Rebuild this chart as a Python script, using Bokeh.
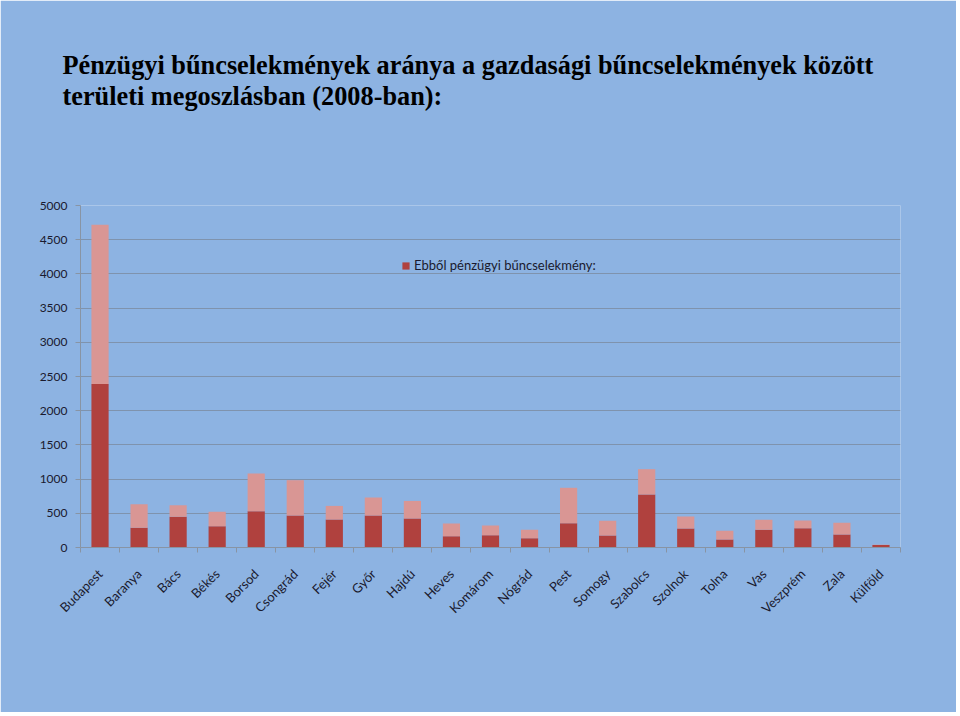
from bokeh.plotting import figure
from bokeh.models import (Range1d, FixedTicker, Legend, LegendItem, Title,
                          ColumnDataSource)
from bokeh.embed import file_html
from bokeh.resources import INLINE
import math

categories = ["Budapest", "Baranya", "Bács", "Békés", "Borsod", "Csongrád",
              "Fejér", "Győr", "Hajdú", "Heves", "Komárom", "Nógrád", "Pest",
              "Somogy", "Szabolcs", "Szolnok", "Tolna", "Vas", "Veszprém",
              "Zala", "Külföld"]
# total economic crimes (gazdasági bűncselekmények)
gazdasagi = [4720, 633, 619, 521, 1082, 984, 608, 731, 681, 351, 322, 259,
             873, 390, 1145, 453, 244, 405, 395, 361, 42]
# of which financial crimes (Ebből pénzügyi bűncselekmény)
penzugyi = [2390, 287, 448, 311, 531, 468, 409, 468, 424, 165, 180, 136,
            355, 175, 775, 278, 117, 259, 282, 190, 36]
y_ticks = [0, 500, 1000, 1500, 2000, 2500, 3000, 3500, 4000, 4500, 5000]

BG = "#8DB3E2"
DARK = "#B0413E"
LIGHT = "#D99694"
GRID = "#7F93AD"
FONT = "Lato"

n = len(categories)
xs = [i + 0.5 for i in range(n)]
rest = [g - f for g, f in zip(gazdasagi, penzugyi)]
src = ColumnDataSource(dict(x=xs, penzugyi=penzugyi, rest=rest,
                            gazdasagi=gazdasagi))

p = figure(width=956, height=712, output_backend="svg", toolbar_location=None,
           x_range=Range1d(0, n), y_range=Range1d(0, 5000),
           min_border_left=80, min_border_right=56, min_border_bottom=165,
           min_border_top=205)
p.background_fill_color = BG
p.border_fill_color = BG
p.outline_line_color = None

p.title.visible = False
# spacer between the plot frame and the title
spacer = Title(text=" ", text_font_size="1px", standoff=91)
p.add_layout(spacer, "above")
t = Title(text="Pénzügyi bűncselekmények aránya a gazdasági bűncselekmények között\nterületi megoszlásban (2008-ban):",
          text_font="Liberation Serif", text_font_style="bold",
          text_font_size="26.3px", text_color="#000000", align="left",
          offset=-18, standoff=0, text_line_height=1.08)
p.add_layout(t, "above")

r = p.vbar_stack(["penzugyi", "rest"], x="x", width=0.44, source=src,
                 color=[DARK, LIGHT], line_color=None)

legend = Legend(items=[LegendItem(label="Ebből pénzügyi bűncselekmény:",
                                  renderers=[r[0]])],
                location=(321, 274), background_fill_alpha=0,
                border_line_color=None, glyph_width=9, glyph_height=9,
                label_text_font=FONT, label_text_font_size="13px",
                label_text_color="#1a1a2e", label_standoff=4, padding=2,
                margin=0)
p.add_layout(legend, "center")

# y axis
p.yaxis.ticker = FixedTicker(ticks=y_ticks)
p.yaxis.axis_line_color = "#8894A4"
p.yaxis.major_tick_line_color = "#8894A4"
p.yaxis.major_tick_out = 5
p.yaxis.major_tick_in = 0
p.yaxis.minor_tick_line_color = None
p.yaxis.major_label_text_font = FONT
p.yaxis.major_label_text_font_size = "12px"
p.yaxis.major_label_text_color = "#1a1a2e"
p.yaxis.major_label_standoff = 8

# x axis: labels at centres, ticks at boundaries
p.xaxis.ticker = FixedTicker(ticks=xs, minor_ticks=list(range(n + 1)))
p.xaxis.major_label_overrides = {x: c for x, c in zip(xs, categories)}
p.xaxis.major_tick_line_color = None
p.xaxis.minor_tick_line_color = "#8894A4"
p.xaxis.minor_tick_out = 5
p.xaxis.minor_tick_in = 0
p.xaxis.axis_line_color = "#8894A4"
p.xaxis.major_label_orientation = math.pi / 4
p.xaxis.major_label_text_font = FONT
p.xaxis.major_label_text_font_size = "13px"
p.xaxis.major_label_text_color = "#1a1a2e"
p.xaxis.major_label_standoff = 18

p.xgrid.grid_line_color = None
p.ygrid.grid_line_color = GRID
p.ygrid.grid_line_width = 1.2

open("out.html", "w").write(file_html(p, INLINE))
